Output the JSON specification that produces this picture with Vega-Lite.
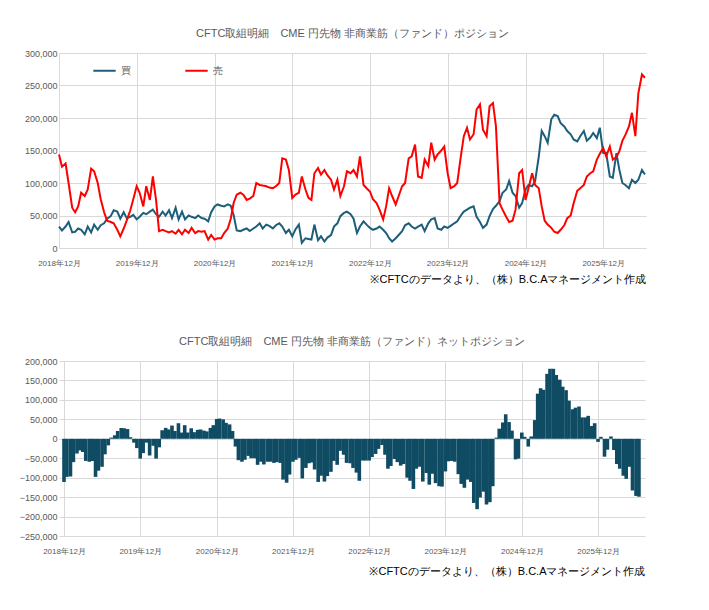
{
  "$schema": "https://vega.github.io/schema/vega-lite/v6.json",
  "padding": {"left": 19, "top": 28, "right": 50, "bottom": 5},
  "background": "white",
  "config": {
    "font": "Liberation Sans",
    "view": {"stroke": null},
    "axis": {"labelColor": "#595959", "labelFontSize": 9, "gridColor": "#d9d9d9", "domain": false, "ticks": false, "titleColor": "#000000", "titleFontSize": 11, "titleFontWeight": "normal"},
    "axisX": {"labelFlush": false},
    "title": {"fontSize": 11, "fontWeight": "normal", "color": "#595959", "anchor": "middle", "offset": 10}
  },
  "spacing": 52,
  "data": {"values": [
    {"d":"2018-12-01","buy":33,"sell":144},{"d":"2018-12-15","buy":27,"sell":125},
    {"d":"2019-01-01","buy":33,"sell":130},{"d":"2019-01-15","buy":40,"sell":100},
    {"d":"2019-02-01","buy":24,"sell":62},{"d":"2019-02-15","buy":25,"sell":55},
    {"d":"2019-03-01","buy":30,"sell":64},{"d":"2019-03-15","buy":28,"sell":85},
    {"d":"2019-04-01","buy":21,"sell":80},{"d":"2019-04-15","buy":33,"sell":90},
    {"d":"2019-05-01","buy":24,"sell":122},{"d":"2019-05-15","buy":36,"sell":118},
    {"d":"2019-06-01","buy":28,"sell":100},{"d":"2019-06-15","buy":35,"sell":75},
    {"d":"2019-07-01","buy":38,"sell":55},{"d":"2019-07-15","buy":45,"sell":42},
    {"d":"2019-08-01","buy":49,"sell":40},{"d":"2019-08-15","buy":58,"sell":38},
    {"d":"2019-09-01","buy":56,"sell":28},{"d":"2019-09-15","buy":45,"sell":18},
    {"d":"2019-10-01","buy":55,"sell":30},{"d":"2019-10-15","buy":46,"sell":42},
    {"d":"2019-11-01","buy":48,"sell":58},{"d":"2019-11-15","buy":51,"sell":75},
    {"d":"2019-12-01","buy":44,"sell":95},{"d":"2019-12-15","buy":48,"sell":85},
    {"d":"2020-01-01","buy":54,"sell":64},{"d":"2020-01-15","buy":52,"sell":95},
    {"d":"2020-02-01","buy":56,"sell":74},{"d":"2020-02-15","buy":59,"sell":110},
    {"d":"2020-03-01","buy":52,"sell":74},{"d":"2020-03-15","buy":48,"sell":26},
    {"d":"2020-04-01","buy":56,"sell":28},{"d":"2020-04-15","buy":50,"sell":26},
    {"d":"2020-05-01","buy":58,"sell":24},{"d":"2020-05-15","buy":46,"sell":26},
    {"d":"2020-06-01","buy":62,"sell":22},{"d":"2020-06-15","buy":44,"sell":28},
    {"d":"2020-07-01","buy":56,"sell":21},{"d":"2020-07-15","buy":44,"sell":28},
    {"d":"2020-08-01","buy":50,"sell":23},{"d":"2020-08-15","buy":48,"sell":31},
    {"d":"2020-09-01","buy":46,"sell":23},{"d":"2020-09-15","buy":50,"sell":26},
    {"d":"2020-10-01","buy":46,"sell":25},{"d":"2020-10-15","buy":45,"sell":26},
    {"d":"2020-11-01","buy":41,"sell":13},{"d":"2020-11-15","buy":55,"sell":20},
    {"d":"2020-12-01","buy":64,"sell":13},{"d":"2020-12-15","buy":67,"sell":15},
    {"d":"2021-01-01","buy":65,"sell":15},{"d":"2021-01-15","buy":64,"sell":23},
    {"d":"2021-02-01","buy":67,"sell":30},{"d":"2021-02-15","buy":65,"sell":45},
    {"d":"2021-03-01","buy":50,"sell":70},{"d":"2021-03-15","buy":27,"sell":82},
    {"d":"2021-04-01","buy":26,"sell":85},{"d":"2021-04-15","buy":28,"sell":82},
    {"d":"2021-05-01","buy":30,"sell":74},{"d":"2021-05-15","buy":26,"sell":76},
    {"d":"2021-06-01","buy":30,"sell":80},{"d":"2021-06-15","buy":33,"sell":100},
    {"d":"2021-07-01","buy":38,"sell":97},{"d":"2021-07-15","buy":30,"sell":96},
    {"d":"2021-08-01","buy":36,"sell":95},{"d":"2021-08-15","buy":34,"sell":93},
    {"d":"2021-09-01","buy":30,"sell":92},{"d":"2021-09-15","buy":35,"sell":95},
    {"d":"2021-10-01","buy":38,"sell":100},{"d":"2021-10-15","buy":33,"sell":138},
    {"d":"2021-11-01","buy":23,"sell":136},{"d":"2021-11-15","buy":28,"sell":120},
    {"d":"2021-12-01","buy":18,"sell":77},{"d":"2021-12-15","buy":28,"sell":82},
    {"d":"2022-01-01","buy":36,"sell":85},{"d":"2022-01-15","buy":8,"sell":110},
    {"d":"2022-02-01","buy":15,"sell":90},{"d":"2022-02-15","buy":14,"sell":77},
    {"d":"2022-03-01","buy":13,"sell":74},{"d":"2022-03-15","buy":36,"sell":115},
    {"d":"2022-04-01","buy":12,"sell":123},{"d":"2022-04-15","buy":18,"sell":113},
    {"d":"2022-05-01","buy":10,"sell":120},{"d":"2022-05-15","buy":16,"sell":112},
    {"d":"2022-06-01","buy":20,"sell":105},{"d":"2022-06-15","buy":33,"sell":90},
    {"d":"2022-07-01","buy":38,"sell":105},{"d":"2022-07-15","buy":49,"sell":80},
    {"d":"2022-08-01","buy":54,"sell":95},{"d":"2022-08-15","buy":56,"sell":118},
    {"d":"2022-09-01","buy":52,"sell":115},{"d":"2022-09-15","buy":45,"sell":120},
    {"d":"2022-10-01","buy":23,"sell":110},{"d":"2022-10-15","buy":33,"sell":141},
    {"d":"2022-11-01","buy":41,"sell":97},{"d":"2022-11-15","buy":36,"sell":92},
    {"d":"2022-12-01","buy":31,"sell":87},{"d":"2022-12-15","buy":28,"sell":75},
    {"d":"2023-01-01","buy":30,"sell":69},{"d":"2023-01-15","buy":33,"sell":59},
    {"d":"2023-02-01","buy":28,"sell":44},{"d":"2023-02-15","buy":23,"sell":64},
    {"d":"2023-03-01","buy":15,"sell":92},{"d":"2023-03-15","buy":10,"sell":80},
    {"d":"2023-04-01","buy":15,"sell":67},{"d":"2023-04-15","buy":20,"sell":80},
    {"d":"2023-05-01","buy":26,"sell":95},{"d":"2023-05-15","buy":35,"sell":100},
    {"d":"2023-06-01","buy":38,"sell":138},{"d":"2023-06-15","buy":33,"sell":141},
    {"d":"2023-07-01","buy":30,"sell":159},{"d":"2023-07-15","buy":33,"sell":110},
    {"d":"2023-08-01","buy":36,"sell":108},{"d":"2023-08-15","buy":26,"sell":136},
    {"d":"2023-09-01","buy":38,"sell":126},{"d":"2023-09-15","buy":44,"sell":162},
    {"d":"2023-10-01","buy":46,"sell":136},{"d":"2023-10-15","buy":30,"sell":144},
    {"d":"2023-11-01","buy":28,"sell":150},{"d":"2023-11-15","buy":33,"sell":156},
    {"d":"2023-12-01","buy":31,"sell":115},{"d":"2023-12-15","buy":34,"sell":92},
    {"d":"2024-01-01","buy":38,"sell":95},{"d":"2024-01-15","buy":41,"sell":100},
    {"d":"2024-02-01","buy":50,"sell":141},{"d":"2024-02-15","buy":56,"sell":172},
    {"d":"2024-03-01","buy":59,"sell":185},{"d":"2024-03-15","buy":62,"sell":167},
    {"d":"2024-04-01","buy":64,"sell":175},{"d":"2024-04-15","buy":48,"sell":213},
    {"d":"2024-05-01","buy":40,"sell":221},{"d":"2024-05-15","buy":31,"sell":182},
    {"d":"2024-06-01","buy":36,"sell":172},{"d":"2024-06-15","buy":49,"sell":218},
    {"d":"2024-07-01","buy":60,"sell":223},{"d":"2024-07-15","buy":65,"sell":187},
    {"d":"2024-08-01","buy":72,"sell":69},{"d":"2024-08-15","buy":85,"sell":59},
    {"d":"2024-09-01","buy":90,"sell":48},{"d":"2024-09-15","buy":103,"sell":40},
    {"d":"2024-10-01","buy":85,"sell":42},{"d":"2024-10-15","buy":80,"sell":59},
    {"d":"2024-11-01","buy":62,"sell":115},{"d":"2024-11-15","buy":69,"sell":120},
    {"d":"2024-12-01","buy":90,"sell":74},{"d":"2024-12-15","buy":97,"sell":92},
    {"d":"2025-01-01","buy":95,"sell":115},{"d":"2025-01-15","buy":103,"sell":97},
    {"d":"2025-02-01","buy":140,"sell":92},{"d":"2025-02-15","buy":180,"sell":64},
    {"d":"2025-03-01","buy":172,"sell":42},{"d":"2025-03-15","buy":162,"sell":36},
    {"d":"2025-04-01","buy":198,"sell":31},{"d":"2025-04-15","buy":205,"sell":25},
    {"d":"2025-05-01","buy":203,"sell":23},{"d":"2025-05-15","buy":192,"sell":28},
    {"d":"2025-06-01","buy":187,"sell":35},{"d":"2025-06-15","buy":180,"sell":46},
    {"d":"2025-07-01","buy":175,"sell":50},{"d":"2025-07-15","buy":167,"sell":69},
    {"d":"2025-08-01","buy":164,"sell":88},{"d":"2025-08-15","buy":172,"sell":92},
    {"d":"2025-09-01","buy":180,"sell":97},{"d":"2025-09-15","buy":165,"sell":110},
    {"d":"2025-10-01","buy":170,"sell":115},{"d":"2025-10-15","buy":177,"sell":118},
    {"d":"2025-11-01","buy":169,"sell":136},{"d":"2025-11-15","buy":185,"sell":145},
    {"d":"2025-12-01","buy":146,"sell":154},{"d":"2025-12-15","buy":146,"sell":141},
    {"d":"2026-01-01","buy":110,"sell":156},{"d":"2026-01-15","buy":108,"sell":136},
    {"d":"2026-02-01","buy":146,"sell":140},{"d":"2026-02-15","buy":120,"sell":149},
    {"d":"2026-03-01","buy":100,"sell":165},{"d":"2026-03-15","buy":97,"sell":174},
    {"d":"2026-04-01","buy":92,"sell":187},{"d":"2026-04-15","buy":105,"sell":208},
    {"d":"2026-05-01","buy":100,"sell":172},{"d":"2026-05-15","buy":105,"sell":238},
    {"d":"2026-06-01","buy":120,"sell":267},{"d":"2026-06-15","buy":113,"sell":262}
  ]},
  "vconcat": [
    {
      "width": 587, "height": 195,
      "title": "CFTC取組明細　CME 円先物  非商業筋（ファンド）ポジション",
      "transform": [
        {"fold": ["buy", "sell"], "as": ["side", "v"]},
        {"calculate": "datum.v * 1000", "as": "value"}
      ],
      "mark": {"type": "line", "strokeWidth": 2},
      "encoding": {
        "x": {"field": "d", "type": "temporal", "title": "※CFTCのデータより、（株）B.C.Aマネージメント作成",
          "scale": {"domain": [{"year": 2018, "month": 12, "date": 1}, {"year": 2026, "month": 6, "date": 20}]},
          "axis": {"format": "%Y年%m月", "labelFontSize": 8, "labelPadding": 11, "titleAnchor": "end", "titlePadding": 6,
            "values": [{"year":2018,"month":12,"date":1},{"year":2019,"month":12,"date":1},{"year":2020,"month":12,"date":1},{"year":2021,"month":12,"date":1},{"year":2022,"month":12,"date":1},{"year":2023,"month":12,"date":1},{"year":2024,"month":12,"date":1},{"year":2025,"month":12,"date":1}]}},
        "y": {"field": "value", "type": "quantitative", "title": null,
          "scale": {"domain": [0, 300000]}, "axis": {"tickCount": 6, "format": ",d"}},
        "color": {"field": "side", "type": "nominal",
          "scale": {"domain": ["buy", "sell"], "range": ["#1d5f7b", "#ff0000"]},
          "legend": {"title": null, "orient": "none", "legendX": 33, "legendY": 5, "direction": "horizontal",
            "symbolType": "stroke", "symbolSize": 500, "symbolStrokeWidth": 2, "columnPadding": 50,
            "labelColor": "#595959", "labelFontSize": 10,
            "labelExpr": "datum.value == 'buy' ? '買' : '売'"}}
      }
    },
    {
      "width": 586, "height": 175,
      "title": "CFTC取組明細　CME 円先物  非商業筋（ファンド）ネットポジション",
      "transform": [{"calculate": "(datum.buy - datum.sell) * 1000", "as": "net"}],
      "mark": {"type": "bar", "size": 3.6, "color": "#0f4c64"},
      "encoding": {
        "x": {"field": "d", "type": "temporal", "title": "※CFTCのデータより、（株）B.C.Aマネージメント作成",
          "scale": {"domain": [{"year": 2018, "month": 12, "date": 1}, {"year": 2026, "month": 6, "date": 20}]},
          "axis": {"format": "%Y年%m月", "labelFontSize": 8, "labelPadding": 11, "titleAnchor": "end", "titlePadding": 10,
            "values": [{"year":2018,"month":12,"date":1},{"year":2019,"month":12,"date":1},{"year":2020,"month":12,"date":1},{"year":2021,"month":12,"date":1},{"year":2022,"month":12,"date":1},{"year":2023,"month":12,"date":1},{"year":2024,"month":12,"date":1},{"year":2025,"month":12,"date":1}]}},
        "y": {"field": "net", "type": "quantitative", "title": null,
          "scale": {"domain": [-250000, 200000]}, "axis": {"values": [-250000,-200000,-150000,-100000,-50000,0,50000,100000,150000,200000], "format": ",d"}}
      }
    }
  ]
}
